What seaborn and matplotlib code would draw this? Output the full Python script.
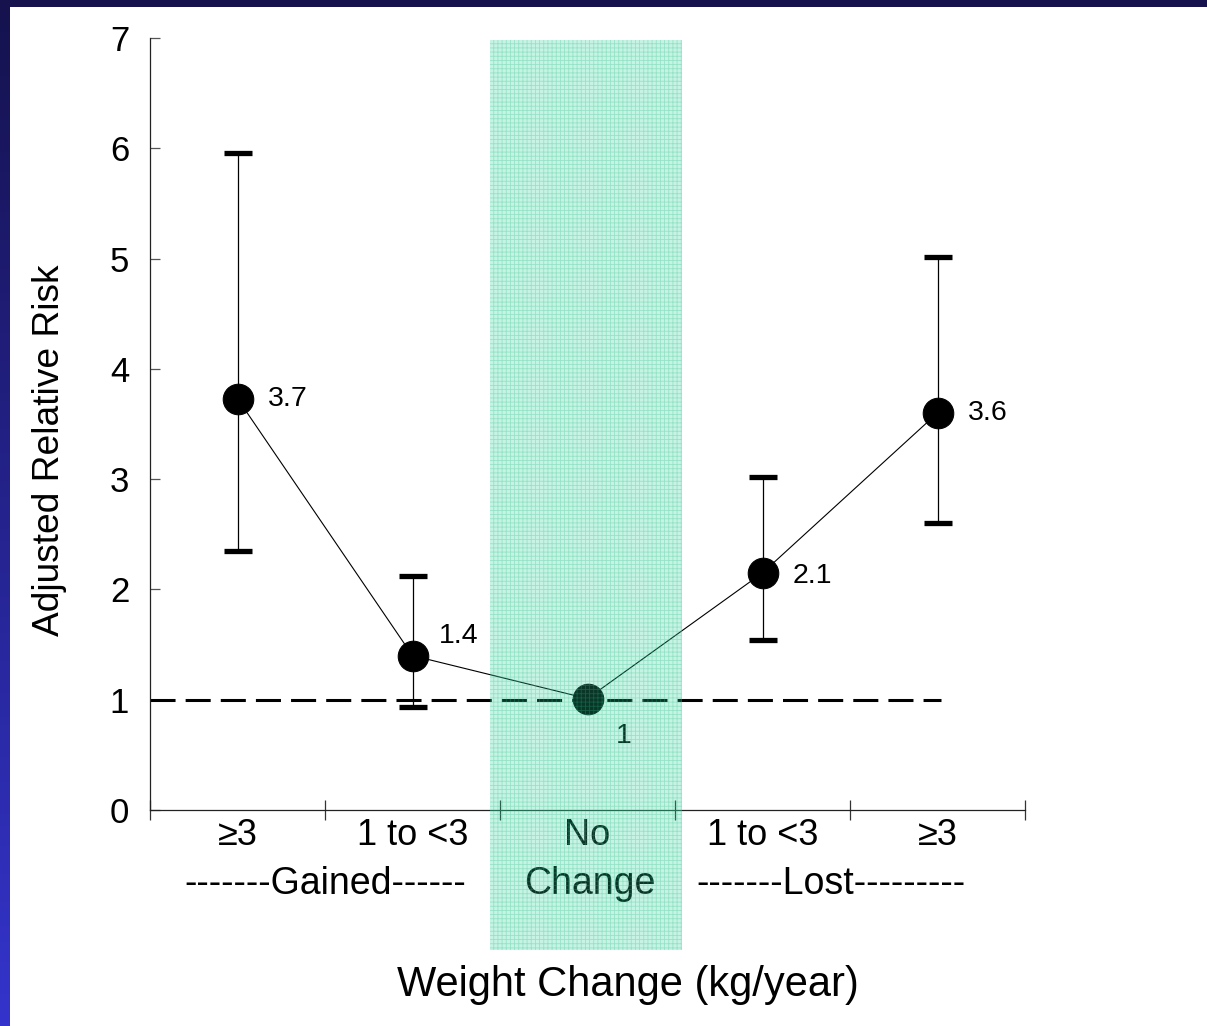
import numpy as np
import pandas as pd
import matplotlib
matplotlib.use("Agg")
import matplotlib.pyplot as plt
from matplotlib.patches import Rectangle
from matplotlib.colors import LinearSegmentedColormap
import seaborn as sns

# ---- data ----
categories = [">3 gained", "1 to <3 gained", "No change", "1 to <3 lost", ">3 lost"]
tick_labels = ["≥3", "1 to <3", "No", "1 to <3", "≥3"]
group_labels = ["-------Gained------", "Change", "-------Lost---------"]
risk = [3.73, 1.40, 1.01, 2.15, 3.60]
ci_low = [2.35, 0.93, np.nan, 1.54, 2.60]
ci_high = [5.96, 2.12, np.nan, 3.02, 5.01]
value_labels = ["3.7", "1.4", "1", "2.1", "3.6"]
reference_value = 1.0

sns.set_theme(style="white")
plt.rcParams['font.family'] = ['Liberation Sans', 'DejaVu Sans']
plt.rcParams['hatch.linewidth'] = 0.6

W, H = 1207, 1026
fig = plt.figure(figsize=(W / 100, H / 100), dpi=100)

# background frame gradient
bg = fig.add_axes([0, 0, 1, 1], zorder=-10)
grad = np.linspace(0, 1, 256).reshape(-1, 1)
cmap = LinearSegmentedColormap.from_list("frame", ["#15124e", "#3434cc"])
bg.imshow(grad, aspect="auto", cmap=cmap, extent=[0, 1, 0, 1], origin="upper")
bg.add_patch(Rectangle((10 / W, 0), 1, 1 - 7 / H, facecolor="white", edgecolor="none"))
bg.set_axis_off()

ax = fig.add_axes([150 / W, 1 - 810 / H, 875 / W, 772 / H])
ax.set_facecolor("none")

x = np.arange(len(categories))
df = pd.DataFrame({"x": x, "risk": risk, "lo": ci_low, "hi": ci_high, "cat": categories})

# error bars
err = df.dropna()
ax.errorbar(err["x"], err["risk"],
            yerr=[err["risk"] - err["lo"], err["hi"] - err["risk"]],
            fmt="none", ecolor="black", elinewidth=0.9, capsize=10, capthick=3.8, zorder=2)

# reference line
ax.plot([-0.5, 4.02], [reference_value, reference_value], color="black", lw=2.2,
        dashes=(8.2, 3.3), zorder=1, clip_on=False)

# connecting line + markers
sns.lineplot(data=df, x="x", y="risk", ax=ax, color="black", lw=0.8,
             marker="o", markersize=22, markeredgecolor="black", zorder=3)

# value labels
offsets = [(30, 0), (26, 20), (28, -37), (30, -3), (30, 0)]
for xi, yi, lab, (dx, dy) in zip(x, risk, value_labels, offsets):
    ax.annotate(lab, (xi, yi), xytext=(dx, dy), textcoords="offset pixels",
                ha="left", va="center", fontsize=20.5, color="black", zorder=4)

ax.set_xlim(-0.5, 4.5)
ax.set_ylim(0, 7)
ax.set_yticks(range(0, 8))
ax.set_xticks(np.arange(-0.5, 5, 1))
ax.set_xticklabels([])
ax.set_xticks(x, minor=True)
ax.set_xticklabels(tick_labels, minor=True, fontsize=26)
ax.tick_params(axis="x", which="major", bottom=True, direction="inout", length=14,
               width=0.9, color="#333333")
ax.tick_params(axis="x", which="minor", bottom=True, length=0, pad=6, labelcolor="black")
ax.tick_params(axis="y", left=True, direction="in", length=7.5, width=0.9, color="#555555",
               labelsize=25, pad=22, labelcolor="black")
for t in ax.get_yticklabels():
    t.set_horizontalalignment("center")
ax.set_xlabel("")
ax.set_ylabel("")
for s in ["top", "right"]:
    ax.spines[s].set_visible(False)
for s in ["left", "bottom"]:
    ax.spines[s].set_color("#222222")
    ax.spines[s].set_linewidth(0.9)

# group labels
group_x = [0.5, 2.014, 3.39]
for gx, gl in zip(group_x, group_labels):
    ax.text(gx, (810 - 884) / 772, gl, transform=ax.get_xaxis_transform(),
            ha="center", va="center", fontsize=27, color="black")

# shaded "no change" band (overlays everything, extends below axis)
band = Rectangle((1.443, -1.27), 2.54 - 1.443, 6.98 + 1.27,
                 facecolor=(0.15, 0.82, 0.60, 0.26), edgecolor=(0.15, 0.75, 0.52, 0.30),
                 hatch="++++", lw=0, zorder=10, clip_on=False)
ax.add_patch(band)

fig.text(628 / W, 1 - 985 / H, "Weight Change (kg/year)", ha="center", va="center",
         fontsize=30, color="black")
fig.text(50 / W, 1 - 450 / H, "Adjusted Relative Risk", ha="center", va="center",
         rotation=90, fontsize=26.7, color="black")

fig.savefig("out.png", dpi=100)
